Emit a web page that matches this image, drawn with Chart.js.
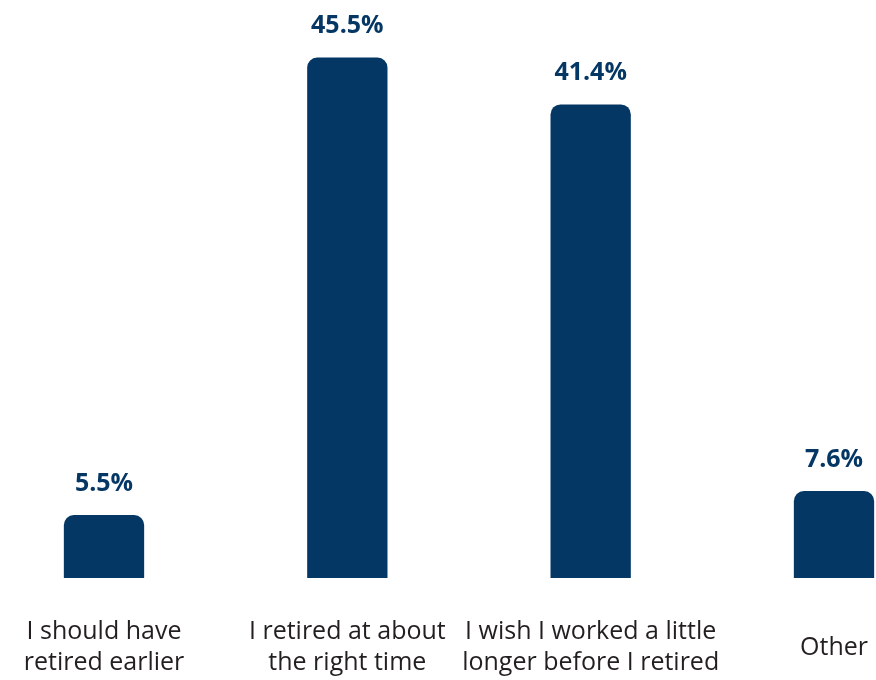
<!DOCTYPE html>
<html>
<head>
<meta charset="utf-8">
<script src="https://cdn.jsdelivr.net/npm/chart.js@4/dist/chart.umd.min.js"></script>
<style>
  html, body { margin: 0; padding: 0; background: #ffffff; }
  #wrap { width: 876px; height: 680px; position: relative; }
</style>
</head>
<body>
<div id="wrap"><canvas id="chart"></canvas></div>
<script>
// Survey answers: how respondents feel about the timing of their retirement
const categories = [
  ['I should have', 'retired earlier'],
  ['I retired at about', 'the right time'],
  ['I wish I worked a little', 'longer before I retired'],
  ['Other']
];
const shares = [5.5, 45.5, 41.4, 7.6];
const valueLabels = ['5.5%', '45.5%', '41.4%', '7.6%'];

const NAVY = '#053765';
const FONT = "'Open Sans', 'Noto Sans', sans-serif";

// Writes the percentage above each bar
const barValues = {
  id: 'barValues',
  afterDatasetsDraw(chart) {
    const ctx = chart.ctx;
    const meta = chart.getDatasetMeta(0);
    ctx.save();
    ctx.fillStyle = NAVY;
    ctx.font = "bold 25px " + FONT;
    ctx.textAlign = 'center';
    ctx.textBaseline = 'alphabetic';
    meta.data.forEach((bar, i) => {
      ctx.fillText(valueLabels[i], bar.x, bar.y - 24);
    });
    ctx.restore();
  }
};

new Chart(document.getElementById('chart'), {
  type: 'bar',
  data: {
    labels: categories,
    datasets: [{
      data: shares,
      backgroundColor: NAVY,
      borderRadius: 10,
      borderSkipped: 'start',
      barPercentage: 0.33,
      categoryPercentage: 1,
      clip: false
    }]
  },
  options: {
    responsive: true,
    maintainAspectRatio: false,
    animation: false,
    layout: { padding: { left: 104, right: 42, top: 6, bottom: 0 } },
    plugins: {
      legend: { display: false },
      tooltip: { enabled: false }
    },
    scales: {
      x: {
        offset: false,
        grid: { display: false, drawTicks: false },
        border: { display: false },
        ticks: {
          color: '#231f20',
          font: { family: FONT, size: 25, lineHeight: 1.24 },
          padding: 54,
          maxRotation: 0,
          autoSkip: false,
          crossAlign: 'center'
        },
        afterFit(scale) {
          // labels may overhang the plot; keep the plot edges fixed
          scale.paddingLeft = 0;
          scale.paddingRight = 0;
          scale.height = 102;
        }
      },
      y: {
        display: false,
        min: 0,
        max: 50
      }
    }
  },
  plugins: [barValues]
});
</script>
</body>
</html>
